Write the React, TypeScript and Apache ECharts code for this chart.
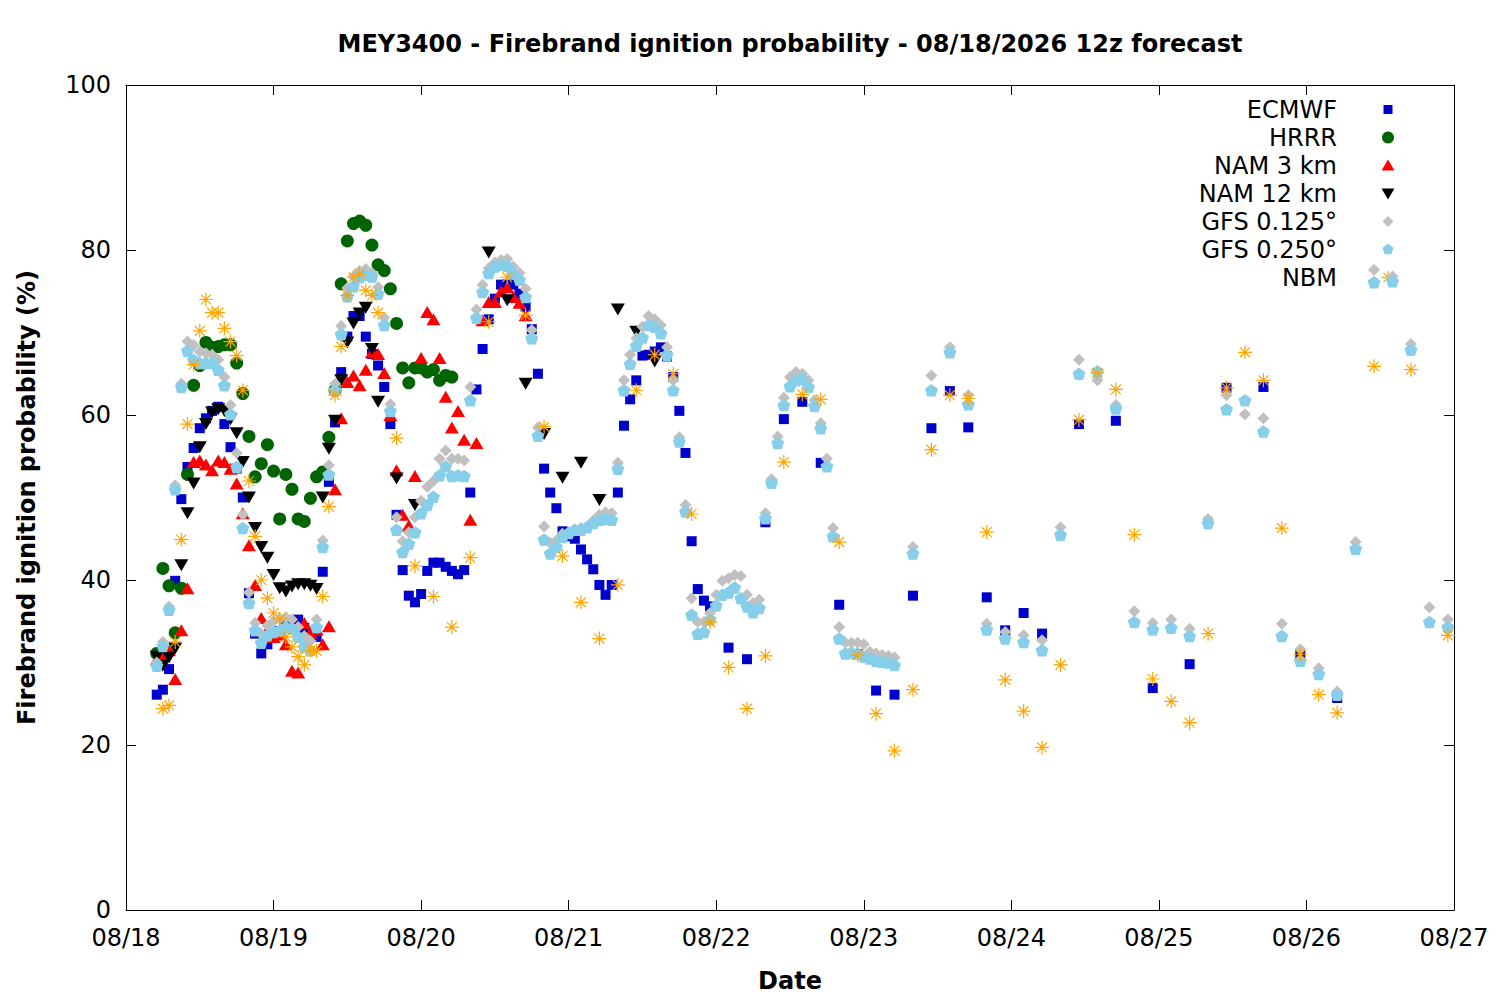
import React, { useEffect, useRef } from "react";
import * as echarts from "echarts";

// ---------- tick labels ----------
const xTickLabels = ["08/18", "08/19", "08/20", "08/21", "08/22", "08/23", "08/24", "08/25", "08/26", "08/27"];
const seriesNames = ["ECMWF", "HRRR", "NAM 3 km", "NAM 12 km", "GFS 0.125°", "GFS 0.250°", "NBM"];

// time in hours since 08/18 00 (local)
const range = (a: number, b: number, s: number) => {
  const out: number[] = [];
  for (let h = a; h <= b; h += s) out.push(h);
  return out;
};

// ---------- ECMWF ----------
const ecmwfHours = [...range(5, 95, 1), ...range(98, 149, 3), ...range(155, 197, 6)];
const ecmwfValues = [
  26.1, 26.7, 29.2, 39.9, 49.8, 53.7, 56.0, 58.4, 59.6, 60.5,
  61.0, 58.9, 56.1, 53.5, 50.0, 38.4, 33.5, 31.1, 32.2, 33.0,
  33.8, 34.5, 35.0, 35.2, 34.2, 33.5, 33.1, 41.0, 51.9, 59.1,
  65.2, 69.5, 72.0, 72.0, 69.5, 67.4, 66.0, 63.4, 58.9, 47.9,
  41.2, 38.1, 37.3, 38.3, 41.1, 42.1, 42.1, 41.6, 41.1, 40.7,
  41.2, 50.6, 63.1, 68.0, 71.6, 74.1, 75.8, 75.8, 75.8, 74.7,
  73.1, 70.4, 65.0, 53.5, 50.6, 48.7, 45.9, 45.3, 45.0, 43.7,
  42.5, 41.3, 39.4, 38.2, 39.4, 50.6, 58.7, 61.9, 64.2, 67.2,
  67.3, 67.7, 68.2, 67.1, 64.6, 60.5, 55.4, 44.7, 38.9, 37.5,
  36.8,
  31.8, 30.4, 47.0, 59.5, 61.6, 54.2, 37.0, 31.0, 26.6, 26.1,
  38.1, 58.4, 62.9, 58.5, 37.9, 33.9, 36.0, 33.5,
  58.9, 59.3, 26.9, 29.8, 63.3, 63.4, 31.0, 25.7,
];

// ---------- HRRR ----------
const hrrrHours = range(5, 53, 1);
const hrrrValues = [
  31.1, 41.4, 39.3, 33.6, 39.0, 52.8, 63.6, 66.0, 68.8, 68.2,
  68.3, 68.5, 68.5, 66.3, 62.6, 57.4, 52.5, 54.1, 56.4, 53.2,
  47.4, 52.8, 51.0, 47.4, 47.1, 49.9, 52.5, 53.1, 57.3, 63.0,
  75.9, 81.1, 83.2, 83.5, 83.0, 80.6, 78.2, 77.5, 75.3, 71.1,
  65.7, 63.9, 65.7, 65.7, 65.2, 65.5, 64.2, 64.8, 64.6,
];

// ---------- NAM 3 km ----------
const nam3Hours = range(5, 65, 1);
const nam3Values = [
  30.4, 30.8, 31.5, 28.0, 33.9, 39.0, 54.3, 54.5, 54.0, 53.3,
  54.5, 54.3, 53.5, 51.7, 48.1, 44.2, 39.4, 35.4, 33.9, 33.1,
  33.4, 32.2, 29.0, 28.8, 34.8, 33.6, 34.0, 32.2, 34.4, 51.0,
  59.6, 64.0, 64.8, 63.6, 65.5, 67.6, 67.4, 65.1, 60.0, 53.3,
  47.9, 46.6, 52.6, 66.9, 72.5, 71.6, 66.9, 62.2, 58.5, 60.5,
  57.0, 47.3, 56.6, 71.5, 73.7, 73.7, 75.0, 75.5, 74.3, 73.6,
  72.1,
];

// ---------- NAM 12 km ----------
const nam12Hours = [...range(5, 41, 1), 44, 47, 59, 62, 65, 68, 71, 74, 77, 80, 83, 86];
const nam12Values = [
  30.7, 29.6, 30.6, 31.7, 41.8, 48.1, 51.7, 56.1, 58.9, 60.3,
  60.7, 60.5, 59.5, 57.8, 54.3, 50.0, 46.3, 44.0, 42.7, 40.6,
  39.0, 38.6, 39.2, 39.5, 39.5, 39.3, 38.9, 50.0, 55.9, 59.3,
  64.2, 68.8, 71.1, 72.3, 73.0, 68.0, 61.6,
  52.3, 49.1, 79.7, 73.9, 63.8, 57.7, 52.4, 54.2, 49.7, 72.8, 70.1, 66.5,
];

// ---------- GFS ----------
const gfsHours = [...range(5, 125, 1), ...range(128, 215, 3)];
const gfs0125Values = [
  30.0, 32.5, 36.8, 51.5, 63.8, 68.9, 68.5, 67.7, 67.5, 67.3,
  66.7, 64.6, 61.2, 55.4, 47.9, 38.5, 34.8, 33.5, 34.5, 35.0,
  35.3, 35.5, 35.2, 34.3, 33.2, 32.6, 35.2, 44.8, 53.9, 63.8,
  70.8, 75.4, 76.8, 77.5, 77.7, 77.2, 75.5, 71.8, 61.3, 47.6,
  44.7, 45.8, 47.6, 49.6, 51.3, 52.0, 54.7, 55.7, 54.7, 54.7,
  54.5, 63.4, 72.8, 75.8, 77.8, 78.5, 78.8, 78.9, 78.0, 77.2,
  75.3, 70.3, 58.5, 46.5, 44.5, 44.8, 45.6, 45.8, 46.0, 46.3,
  46.5, 47.2, 47.9, 48.2, 48.1, 54.2, 64.2, 67.3, 69.3, 70.7,
  72.0, 71.6, 70.9, 68.2, 64.2, 57.3, 49.1, 37.8, 34.9, 34.9,
  36.0, 38.2, 39.9, 40.2, 40.6, 40.5, 38.2, 37.2, 37.6, 48.1,
  52.2, 57.4, 62.1, 64.6, 65.2, 65.0, 64.2, 61.8, 59.0, 54.7,
  46.3, 34.3, 32.4, 32.4, 32.4, 32.2, 31.3, 31.1, 30.9, 30.8,
  30.6,
  44.0, 64.8, 68.2, 62.4, 34.7, 33.7, 33.3, 32.7, 46.4, 66.7,
  64.2, 61.2, 36.2, 34.8, 35.2, 34.1, 47.4, 62.4, 60.1, 59.6,
  34.7, 31.6, 29.3, 26.5, 44.6, 77.6, 76.8, 68.6, 36.7, 35.2,
];
const gfs0250Values = [
  29.6, 32.0, 36.4, 51.0, 63.4, 67.8, 66.7, 66.3, 66.3, 66.3,
  65.5, 63.6, 60.1, 53.7, 46.3, 37.2, 33.9, 32.4, 33.3, 33.7,
  33.9, 34.3, 34.1, 33.1, 31.9, 31.5, 34.3, 44.0, 52.8, 63.0,
  69.8, 74.4, 75.6, 76.7, 77.0, 76.8, 74.7, 70.9, 60.5, 46.1,
  43.4, 44.4, 45.8, 48.1, 49.1, 50.1, 52.7, 53.8, 52.6, 52.7,
  52.6, 61.8, 71.8, 74.9, 77.2, 78.0, 78.2, 78.1, 77.2, 76.4,
  74.3, 69.3, 57.5, 44.9, 43.2, 44.0, 45.2, 45.7, 46.1, 46.1,
  46.4, 46.9, 47.3, 47.4, 47.3, 53.5, 63.0, 66.2, 68.4, 69.4,
  70.9, 70.7, 69.9, 67.3, 63.0, 56.8, 48.3, 35.8, 33.5, 33.7,
  35.2, 36.9, 38.2, 38.5, 39.1, 37.8, 36.8, 36.1, 36.6, 47.5,
  51.8, 56.6, 61.2, 63.5, 64.2, 64.4, 63.4, 61.1, 58.4, 53.8,
  45.3, 32.9, 31.1, 31.2, 31.1, 30.7, 30.5, 30.2, 30.1, 30.0,
  29.7,
  43.2, 63.0, 67.6, 61.3, 34.0, 32.9, 32.5, 31.5, 45.5, 65.0,
  65.3, 60.8, 34.9, 34.0, 34.2, 33.2, 46.9, 60.7, 61.8, 58.0,
  33.2, 30.2, 28.6, 26.1, 43.8, 76.1, 76.2, 67.9, 34.9, 34.3,
];

// ---------- NBM ----------
const nbmHours = [...range(6, 41, 1), ...range(44, 197, 3), 203, 209, 215];
const nbmValues = [
  24.4, 24.8, 32.5, 44.9, 58.9, 66.1, 70.2, 74.0, 72.4, 72.4,
  70.5, 68.9, 67.2, 63.0, 52.0, 45.3, 40.0, 37.8, 36.0, 35.3,
  33.1, 31.9, 30.7, 29.7, 31.5, 31.4, 38.0, 48.9, 62.4, 68.3,
  74.5, 76.7, 77.1, 75.1, 74.5, 72.4,
  57.2, 41.7, 38.0, 34.3, 42.7, 71.3, 76.7, 72.1, 58.6, 42.9,
  37.3, 32.9, 39.4, 63.0, 67.3, 65.0, 48.0, 34.9, 29.4, 24.4,
  30.8, 54.3, 62.5, 61.9, 44.6, 30.9, 23.8, 19.3, 26.7, 55.8,
  62.4, 62.0, 45.8, 27.9, 24.1, 19.7, 29.7, 59.4, 65.1, 63.1,
  45.5, 28.0, 25.3, 22.7, 33.5, 63.3, 67.6, 64.2, 46.3, 31.0,
  26.1, 23.9,
  65.9, 65.5, 33.3,
];

const colors = ["#0000cd", "#006400", "#ff0000", "#000000", "#c0c0c0", "#87ceeb", "#ffa500"];

const pentagonPath = "path://M0,-10 L9.51,-3.09 L5.88,8.09 L-5.88,8.09 L-9.51,-3.09 Z";
const asteriskPath = "path://M6,0 L6,12 M0,6 L12,6 M1.76,1.76 L10.24,10.24 M1.76,10.24 L10.24,1.76";

const pair = (hours: number[], values: number[]) => hours.map((h, i) => [h, values[i]]);

const FONT = "DejaVu Sans";
const FS = 24;

function legendGraphics() {
  const textX = 1337;
  const mx = 1388;
  const y0 = 109.5;
  const step = 28;
  const els: any[] = [];
  seriesNames.forEach((name, i) => {
    els.push({
      type: "text",
      x: textX,
      y: y0 + i * step,
      style: { text: name, align: "right", verticalAlign: "middle", font: `${FS}px "${FONT}"`, fill: "#000" },
    });
  });
  const y = (i: number) => y0 + i * step;
  els.push({ type: "rect", shape: { x: mx - 4.5, y: y(0) - 4.5, width: 9, height: 9 }, style: { fill: colors[0] } });
  els.push({ type: "circle", shape: { cx: mx, cy: y(1), r: 6 }, style: { fill: colors[1] } });
  els.push({
    type: "polygon",
    shape: { points: [[mx, y(2) - 6], [mx + 6.5, y(2) + 5], [mx - 6.5, y(2) + 5]] },
    style: { fill: colors[2] },
  });
  els.push({
    type: "polygon",
    shape: { points: [[mx - 6.5, y(3) - 5], [mx + 6.5, y(3) - 5], [mx, y(3) + 6]] },
    style: { fill: colors[3] },
  });
  els.push({
    type: "polygon",
    shape: { points: [[mx, y(4) - 5.5], [mx + 5.5, y(4)], [mx, y(4) + 5.5], [mx - 5.5, y(4)]] },
    style: { fill: colors[4] },
  });
  const pent: number[][] = [];
  for (let k = 0; k < 5; k++) {
    const a = -Math.PI / 2 + (k * 2 * Math.PI) / 5;
    pent.push([mx + 5.8 * Math.cos(a), y(5) + 5.8 * Math.sin(a)]);
  }
  els.push({ type: "polygon", shape: { points: pent }, style: { fill: colors[5] } });
  const r = 6.5;
  const d = r * 0.7071;
  [
    [0, -r, 0, r],
    [-r, 0, r, 0],
    [-d, -d, d, d],
    [-d, d, d, -d],
  ].forEach(([x1, y1, x2, y2]) => {
    els.push({
      type: "line",
      shape: { x1: mx + x1, y1: y(6) + y1, x2: mx + x2, y2: y(6) + y2 },
      style: { stroke: colors[6], lineWidth: 1.2 },
    });
  });
  return els;
}

export default function App() {
  const ref = useRef<HTMLDivElement>(null);
  useEffect(() => {
    if (!ref.current) return;
    const chart = echarts.init(ref.current, undefined, { renderer: "svg" });
    const axisCommonX = {
      type: "value",
      min: 0,
      max: 216,
      interval: 24,
      axisLine: { show: true, onZero: false, lineStyle: { color: "#000", width: 1 } },
      axisTick: { show: true, inside: true, length: 10, lineStyle: { color: "#000" } },
      splitLine: { show: false },
    };
    const axisCommonY = {
      type: "value",
      min: 0,
      max: 100,
      interval: 20,
      axisLine: { show: true, onZero: false, lineStyle: { color: "#000", width: 1 } },
      axisTick: { show: true, inside: true, length: 10, lineStyle: { color: "#000" } },
      splitLine: { show: false },
    };
    const mk = (i: number, hours: number[], values: number[], symbol: string, size: any, extra: any = {}) => ({
      name: seriesNames[i],
      type: "scatter",
      xAxisIndex: 0,
      yAxisIndex: 0,
      symbol,
      symbolSize: size,
      itemStyle: { color: colors[i], opacity: 1 },
      data: pair(hours, values),
      ...extra,
    });
    chart.setOption({
      animation: false,
      backgroundColor: "#ffffff",
      textStyle: { fontFamily: FONT },
      grid: { left: 126, top: 85, right: 46, bottom: 90, containLabel: false },
      xAxis: [
        {
          ...axisCommonX,
          position: "bottom",
          name: "Date",
          nameLocation: "middle",
          nameGap: 59,
          nameTextStyle: { fontFamily: FONT, fontSize: FS, fontWeight: "bold", color: "#000" },
          axisLabel: {
            show: true,
            margin: 16,
            fontFamily: FONT,
            fontSize: FS,
            color: "#000",
            formatter: (v: number) => xTickLabels[Math.round(v / 24)] ?? "",
          },
        },
        { ...axisCommonX, position: "top", axisLabel: { show: false } },
      ],
      yAxis: [
        {
          ...axisCommonY,
          position: "left",
          name: "Firebrand ignition probability (%)",
          nameLocation: "middle",
          nameGap: 87,
          nameRotate: 90,
          nameTextStyle: { fontFamily: FONT, fontSize: FS, fontWeight: "bold", color: "#000" },
          axisLabel: { show: true, margin: 15, fontFamily: FONT, fontSize: FS, color: "#000" },
        },
        { ...axisCommonY, position: "right", axisLabel: { show: false } },
      ],
      series: [
        mk(0, ecmwfHours, ecmwfValues, "rect", 10),
        mk(1, hrrrHours, hrrrValues, "circle", 13),
        mk(2, nam3Hours, nam3Values, "triangle", [14, 12]),
        mk(3, nam12Hours, nam12Values, "triangle", [14, 12], { symbolRotate: 180 }),
        mk(4, gfsHours, gfs0125Values, "diamond", [12, 12]),
        mk(5, gfsHours, gfs0250Values, pentagonPath, [13, 12.5]),
        mk(6, nbmHours, nbmValues, asteriskPath, [14, 14], {
          itemStyle: { color: "rgba(0,0,0,0)", borderColor: colors[6], borderWidth: 1.2, opacity: 1 },
        }),
      ],
      graphic: [
        {
          type: "text",
          x: 790,
          y: 44,
          style: {
            text: "MEY3400 - Firebrand ignition probability - 08/18/2026 12z forecast",
            align: "center",
            verticalAlign: "middle",
            font: `bold ${FS}px "${FONT}"`,
            fill: "#000",
          },
        },
        ...legendGraphics(),
      ],
    });
    return () => chart.dispose();
  }, []);
  return (
    <div
      ref={ref}
      style={{ position: "absolute", left: 0, top: 0, width: 1500, height: 1000, background: "#fff" }}
    />
  );
}
